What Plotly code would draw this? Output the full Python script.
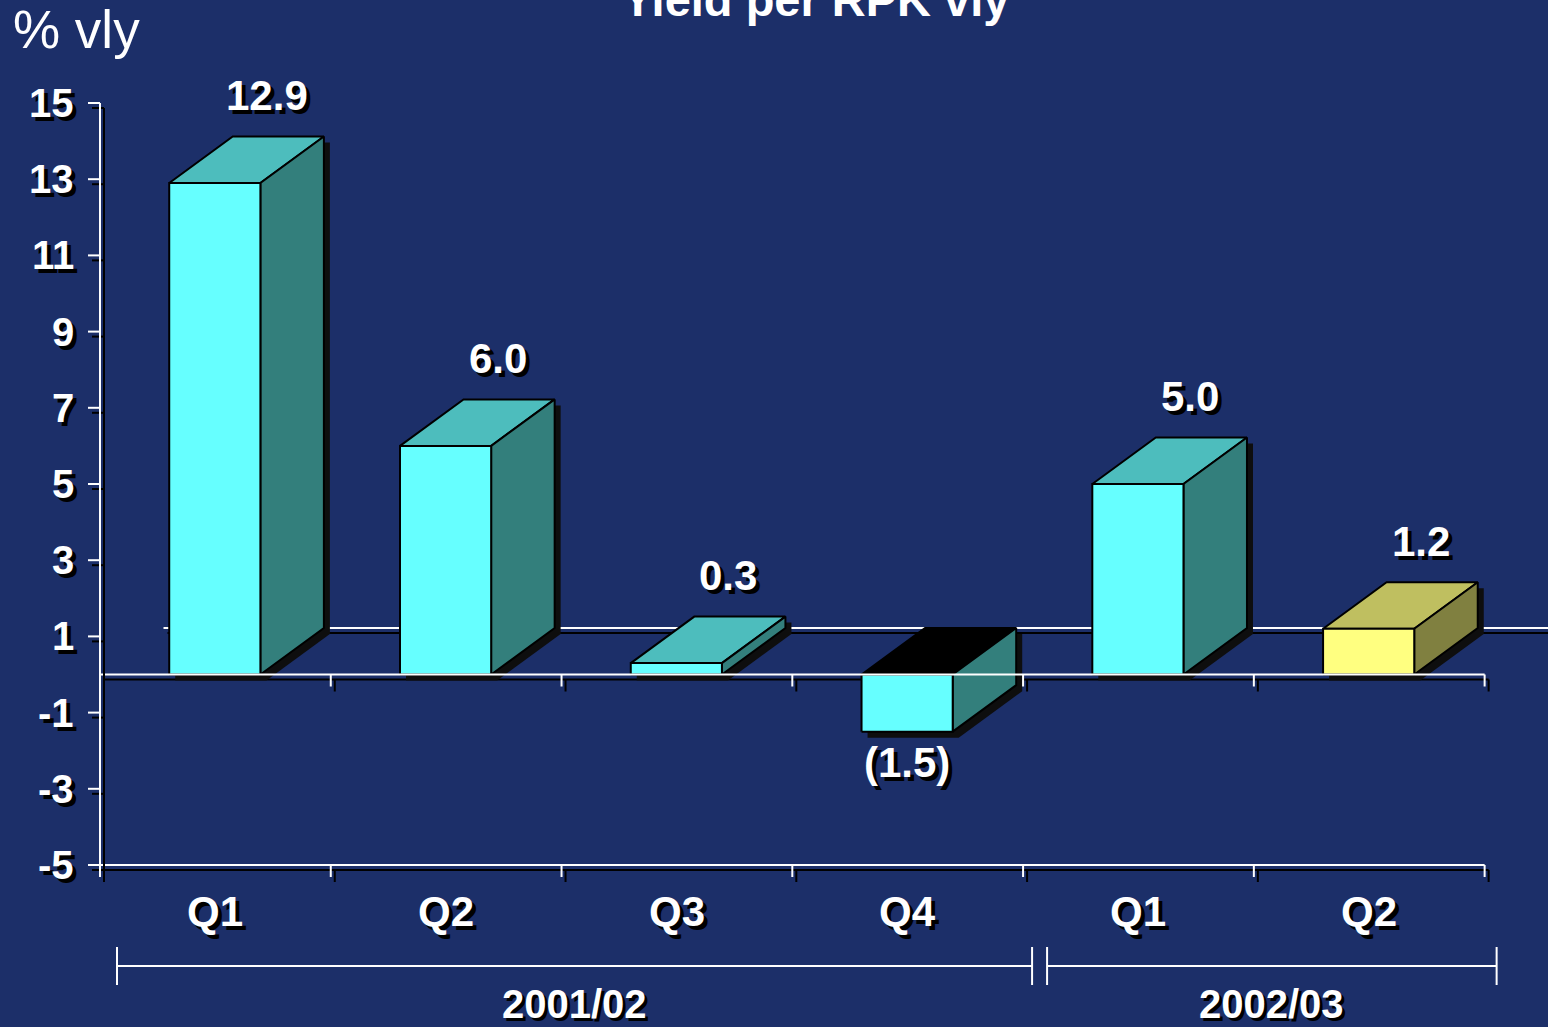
import plotly.graph_objects as go

# ---------------- data ----------------
categories = ["Q1", "Q2", "Q3", "Q4", "Q1", "Q2"]
values = [12.9, 6.0, 0.3, -1.5, 5.0, 1.2]
value_labels = ["12.9", "6.0", "0.3", "(1.5)", "5.0", "1.2"]
groups = ["2001/02", "2002/03"]
group_spans = [(0, 4), (4, 6)]
y_ticks = [15, 13, 11, 9, 7, 5, 3, 1, -1, -3, -5]
highlight = [False, False, False, False, False, True]
title_text = "Yield per RPK vly"
unit_text = "% vly"

# ---------------- styling / geometry ----------------
W, H = 1548, 1027
BG = "#1C2F69"
X0PX, XSCALE = 100.0, 230.77   # pixel of x=0, px per category
Y0PX, YSCALE = 674.5, 38.1     # pixel of y=0, px per unit
FONT = "Liberation Sans, Arial, sans-serif"

def dpx(n):
    return n / XSCALE

def dpy(n):
    return n / YSCALE

DX, DY = dpx(63.5), dpy(46.5)      # 3D depth
BAR_OFF, BAR_W = 0.30, 0.395
SHX, SHY = dpx(6), -dpy(6)         # bar shadow offset
LSX, LSY = dpx(4), -dpy(5)         # line shadow offset

CYAN = ("#66FFFF", "#4DBDBD", "#337F7C")
YELL = ("#FFFF80", "#BFBF60", "#808040")

fig = go.Figure()

def poly(xs, ys, fill, lw=2, lc="black"):
    fig.add_trace(go.Scatter(
        x=list(xs) + [xs[0]], y=list(ys) + [ys[0]], mode="lines", fill="toself",
        fillcolor=fill, line=dict(color=lc, width=lw), hoverinfo="skip",
        showlegend=False))

def segs(segments, color, width=2, shadow=True):
    if shadow:
        xs, ys = [], []
        for (xa, ya), (xb, yb) in segments:
            xs += [xa + LSX, xb + LSX, None]
            ys += [ya + LSY, yb + LSY, None]
        fig.add_trace(go.Scatter(x=xs, y=ys, mode="lines",
                                 line=dict(color="black", width=width),
                                 hoverinfo="skip", showlegend=False))
    xs, ys = [], []
    for (xa, ya), (xb, yb) in segments:
        xs += [xa, xb, None]
        ys += [ya, yb, None]
    fig.add_trace(go.Scatter(x=xs, y=ys, mode="lines",
                             line=dict(color=color, width=width),
                             hoverinfo="skip", showlegend=False))

n = len(categories)
ymin, ymax = min(y_ticks), max(y_ticks)
tick_len = 12

# back floor line
segs([((DX, DY), (n + DX, DY))], "white")
# zero line shadow (behind bars)
fig.add_trace(go.Scatter(x=[0 + LSX, n + LSX], y=[LSY, LSY], mode="lines",
                         line=dict(color="black", width=2), hoverinfo="skip",
                         showlegend=False))

# bars
for i, v in enumerate(values):
    x0 = i + BAR_OFF
    x1 = x0 + BAR_W
    yb, yt = min(0, v), max(0, v)
    front, top, side = YELL if highlight[i] else CYAN
    if v < 0:
        top = "#000000"
    sx = [x0, x1, x1 + DX, x1 + DX, x0 + DX, x0]
    sy = [yb, yb, yb + DY, yt + DY, yt + DY, yt]
    poly([a + SHX for a in sx], [b + SHY for b in sy], "#0E0E0E", lw=0, lc="#0E0E0E")
    poly([x0, x1, x1 + DX, x0 + DX], [yt, yt, yt + DY, yt + DY], top)
    poly([x1, x1 + DX, x1 + DX, x1], [yb, yb + DY, yt + DY, yt], side)
    poly([x0, x1, x1, x0], [yb, yb, yt, yt], front)

# zero line with ticks
fig.add_trace(go.Scatter(x=[0, n], y=[0, 0], mode="lines",
                         line=dict(color="white", width=2), hoverinfo="skip",
                         showlegend=False))
segs([((k, 0), (k, -dpy(tick_len))) for k in range(1, n + 1)], "white")
# bottom line with ticks
segs([((-dpx(tick_len), ymin), (n, ymin))] +
     [((k, ymin), (k, ymin - dpy(tick_len))) for k in range(0, n + 1)], "white")
# y axis with ticks
segs([((0, ymax), (0, ymin - dpy(tick_len)))] +
     [((-dpx(tick_len), t), (0, t)) for t in y_ticks], "white")

# group brackets (no shadow)
br_y = ymin - dpy(101)
br_h = dpy(19)
bracket_ends = []
for gi, (a, b) in enumerate(group_spans):
    xa = a + dpx(17) if gi == 0 else a + dpx(24)
    xb = b + dpx(9) if gi < len(group_spans) - 1 else b + dpx(12)
    bracket_ends.append((xa, xb))
    segs([((xa, br_y), (xb, br_y)), ((xa, br_y - br_h), (xa, br_y + br_h)),
          ((xb, br_y - br_h), (xb, br_y + br_h))], "white", width=2, shadow=False)

ann = []
SH = "4px 4px 0px #000000"
bold = dict(family=FONT, size=42, color="white", weight="bold", shadow=SH)

for t in y_ticks:
    ann.append(dict(x=-dpx(24), y=t, xref="x", yref="y", text=str(t),
                    xanchor="right", yanchor="middle", showarrow=False,
                    font=dict(bold, size=40)))

for i, (v, lab) in enumerate(zip(values, value_labels)):
    if v >= 0:
        ann.append(dict(x=i + BAR_OFF + BAR_W / 2 + dpx(52), y=v + DY, xref="x", yref="y",
                        text=lab, xanchor="center", yanchor="middle", yshift=41,
                        showarrow=False, font=bold))
    else:
        ann.append(dict(x=i + BAR_OFF + BAR_W / 2, y=v, xref="x", yref="y",
                        text=lab, xanchor="center", yanchor="middle", yshift=-31,
                        showarrow=False, font=bold))

for i, c in enumerate(categories):
    ann.append(dict(x=i + 0.5, y=ymin - dpy(46), xref="x", yref="y", text=c,
                    xanchor="center", yanchor="middle", showarrow=False, font=bold))

for g, (xa, xb) in zip(groups, bracket_ends):
    ann.append(dict(x=(xa + xb) / 2, y=ymin - dpy(139), xref="x", yref="y", text=g,
                    xanchor="center", yanchor="middle", showarrow=False,
                    font=dict(bold, size=40, shadow="3px 3px 0px #000000")))

ann.append(dict(x=815 / W, y=1 + 1 / H, xref="paper", yref="paper", text=title_text,
                xanchor="center", yanchor="middle", showarrow=False,
                font=dict(family=FONT, size=47, color="white", weight="bold")))
ann.append(dict(x=11 / W, y=1 - 30 / H, xref="paper", yref="paper", text=unit_text,
                xanchor="left", yanchor="middle", showarrow=False,
                font=dict(family=FONT, size=53, color="white")))

fig.update_layout(
    width=W, height=H, autosize=False,
    margin=dict(l=0, r=0, t=0, b=0, pad=0),
    paper_bgcolor=BG, plot_bgcolor=BG,
    xaxis=dict(range=[-X0PX / XSCALE, (W - X0PX) / XSCALE], visible=False, fixedrange=True),
    yaxis=dict(range=[(Y0PX - H) / YSCALE, Y0PX / YSCALE], visible=False, fixedrange=True),
    annotations=ann,
    showlegend=False,
)

fig.write_html("out.html", config={"displayModeBar": False})
